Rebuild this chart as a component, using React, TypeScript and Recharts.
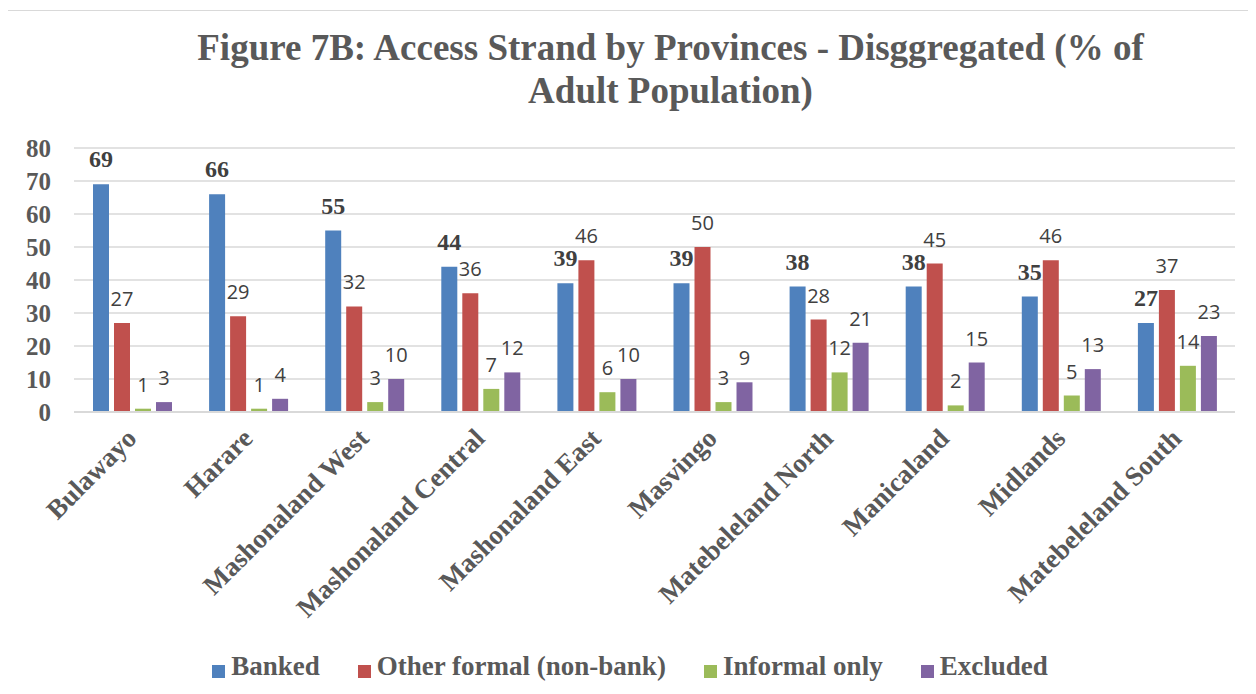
import React from "react";
import { BarChart, Bar, XAxis, YAxis, CartesianGrid, Legend, LabelList } from "recharts";

const provinces = [
  "Bulawayo",
  "Harare",
  "Mashonaland West",
  "Mashonaland Central",
  "Mashonaland East",
  "Masvingo",
  "Matebeleland North",
  "Manicaland",
  "Midlands",
  "Matebeleland South",
];

const banked = [69, 66, 55, 44, 39, 39, 38, 38, 35, 27];
const otherFormal = [27, 29, 32, 36, 46, 50, 28, 45, 46, 37];
const informalOnly = [1, 1, 3, 7, 6, 3, 12, 2, 5, 14];
const excluded = [3, 4, 10, 12, 10, 9, 21, 15, 13, 23];

const yTicks = [0, 10, 20, 30, 40, 50, 60, 70, 80];

const data = provinces.map((name, i) => ({
  name,
  banked: banked[i],
  otherFormal: otherFormal[i],
  informalOnly: informalOnly[i],
  excluded: excluded[i],
}));

const SERIF = "'Liberation Serif', 'Times New Roman', serif";
const SANS = "'Open Sans', 'Noto Sans', sans-serif";
const GREY = "#595959";

const CategoryTick = (props: any) => {
  const { x, y, payload } = props;
  const tx = x + 6;
  const ty = y + 20;
  return (
    <text
      x={tx}
      y={ty}
      transform={`rotate(-45, ${tx}, ${ty})`}
      textAnchor="end"
      fill={GREY}
      fontFamily={SERIF}
      fontWeight="bold"
      fontSize={27}
    >
      {payload.value}
    </text>
  );
};

const legendText = (value: string) => (
  <span
    style={{
      color: GREY,
      fontFamily: SERIF,
      fontWeight: "bold",
      fontSize: 27,
      marginLeft: 2,
      marginRight: 28,
    }}
  >
    {value}
  </span>
);

export default function App() {
  return (
    <div
      style={{
        position: "relative",
        width: 1241,
        height: 684,
        marginTop: 2,
        marginLeft: -1,
        border: "1px solid #d9d9d9",
        background: "#fff",
      }}
    >
      <div
        style={{
          position: "absolute",
          top: 15,
          left: 42,
          width: 1241,
          textAlign: "center",
          fontFamily: SERIF,
          fontWeight: "bold",
          fontSize: 37,
          lineHeight: "43px",
          color: GREY,
        }}
      >
        Figure 7B: Access Strand by Provinces - Disggregated (% of
        <br />
        Adult Population)
      </div>
      <BarChart
        width={1241}
        height={682}
        data={data}
        barSize={16}
        barGap={5}
        margin={{ top: 137, right: 14, bottom: 2, left: 0 }}
      >
        <CartesianGrid vertical={false} stroke="#d9d9d9" strokeWidth={1.5} />
        <XAxis
          dataKey="name"
          interval={0}
          height={239}
          tick={<CategoryTick />}
          tickLine={false}
          axisLine={{ stroke: "#d9d9d9", strokeWidth: 2 }}
        />
        <YAxis
          width={66}
          domain={[0, 80]}
          ticks={yTicks}
          axisLine={false}
          tickLine={false}
          tickMargin={17}
          tick={{ fill: GREY, fontFamily: SERIF, fontWeight: "bold", fontSize: 25 }}
        />
        <Legend
          verticalAlign="bottom"
          height={40}
          iconType="square"
          iconSize={13}
          itemSorter={null}
          formatter={legendText}
          wrapperStyle={{ paddingLeft: 55, boxSizing: "border-box" }}
        />
        <Bar dataKey="banked" name="Banked" fill="#4F81BD" isAnimationActive={false}>
          <LabelList
            dataKey="banked"
            position="top"
            offset={17}
            fill="#404040"
            fontFamily={SERIF}
            fontWeight="bold"
            fontSize={24}
          />
        </Bar>
        <Bar dataKey="otherFormal" name="Other formal (non-bank)" fill="#C0504D" isAnimationActive={false}>
          <LabelList dataKey="otherFormal" position="top" offset={17} fill="#404040" fontFamily={SANS} fontSize={20} />
        </Bar>
        <Bar dataKey="informalOnly" name="Informal only" fill="#9BBB59" isAnimationActive={false}>
          <LabelList dataKey="informalOnly" position="top" offset={17} fill="#404040" fontFamily={SANS} fontSize={20} />
        </Bar>
        <Bar dataKey="excluded" name="Excluded" fill="#8064A2" isAnimationActive={false}>
          <LabelList dataKey="excluded" position="top" offset={17} fill="#404040" fontFamily={SANS} fontSize={20} />
        </Bar>
      </BarChart>
    </div>
  );
}
